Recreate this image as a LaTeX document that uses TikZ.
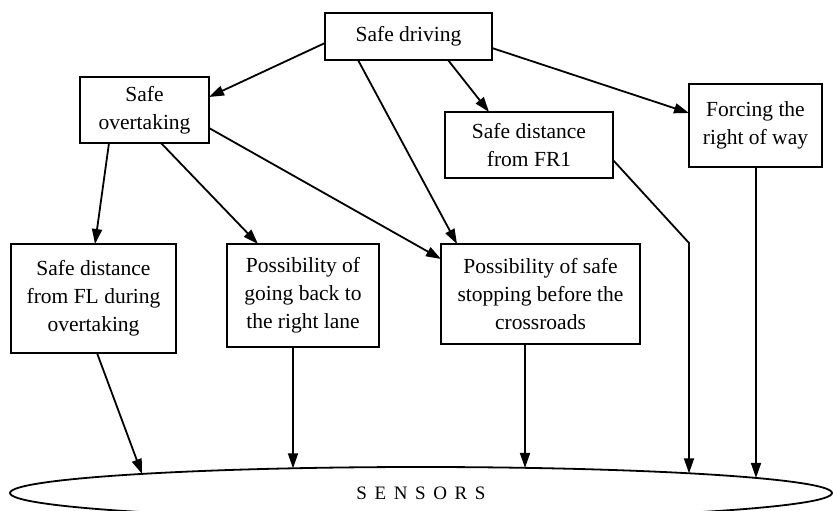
\documentclass[tikz,border=0pt]{standalone}
\usepackage{fontspec}
\setmainfont{Liberation Serif}
\usetikzlibrary{arrows.meta,shapes.geometric,calc}
\begin{document}
\begin{tikzpicture}[x=1pt,y=-1pt,
  box/.style={draw, line width=1.8pt, align=center, inner sep=0pt, outer sep=0pt,
    font=\fontsize{21.5}{28}\selectfont},
  arr/.style={line width=1.8pt, -{Triangle[length=15pt,width=10pt]}},
  ln/.style={line width=1.8pt}]
\useasboundingbox (0,0) rectangle (833,511);

\node[box, minimum width=167pt, minimum height=47pt] (sd) at (408.5,36.5) {Safe driving};
\node[box, minimum width=129pt, minimum height=66pt] (so) at (144.5,110) {Safe\\overtaking};
\node[box, minimum width=168pt, minimum height=66pt] (fr) at (529,145) {Safe distance\\from FR1};
\node[box, minimum width=133pt, minimum height=83pt] (fw) at (755.5,125.5) {Forcing the\\right of way};
\node[box, minimum width=165pt, minimum height=109pt] (fl) at (93.5,298.5) {Safe distance\\from FL during\\overtaking};
\node[box, minimum width=152pt, minimum height=103pt] (gb) at (303,295.5) {Possibility of\\going back to\\the right lane};
\node[box, minimum width=199pt, minimum height=100pt] (ss) at (540.5,294) {Possibility of safe\\stopping before the\\crossroads};
\node[draw, ellipse, line width=1.8pt, minimum width=822pt, minimum height=52pt,
  inner sep=0pt, outer sep=0pt,
  font=\fontsize{19}{20}\selectfont\addfontfeature{LetterSpace=40}] (sen) at (421,493) {SENSORS};

\coordinate (e1) at ($(sen.center)+(-279,-19)$);
\coordinate (e2) at ($(sen.center)+(-128,-24.7)$);
\coordinate (e3) at ($(sen.center)+(104,-25.1)$);
\coordinate (e4) at ($(sen.center)+(268,-19.7)$);
\coordinate (e5) at ($(sen.center)+(335,-15.1)$);
\coordinate (bend) at ($(fr.east)+(76,98)$);

\draw[arr] ($(sd.west)+(0,6.5)$) -- ($(so.east)+(0,-13)$);
\draw[arr] ($(sd.south)+(-50.5,0)$) -- ($(ss.north)+(-83.5,0)$);
\draw[arr] ($(sd.south)+(39.5,0)$) -- ($(fr.north)+(-40,0)$);
\draw[arr] ($(sd.east)+(0,11.5)$) -- ($(fw.west)+(0,-12.5)$);
\draw[arr] ($(so.south)+(-35.5,0)$) -- ($(fl.north)+(1.5,0)$);
\draw[arr] ($(so.south)+(16.5,0)$) -- ($(gb.north)+(-45,0)$);
\draw[arr] ($(so.east)+(0,18)$) -- ($(ss.west)+(0,-35)$);
\draw[arr] ($(fl.south)+(3.5,0)$) -- (e1);
\draw[arr] ($(gb.south)+(-10,0)$) -- (e2);
\draw[arr] ($(ss.south)+(-15.5,0)$) -- (e3);
\draw[arr] ($(fr.east)+(0,15)$) -- (bend) -- (e4);
\draw[arr] ($(fw.south)+(0.5,0)$) -- (e5);
\end{tikzpicture}
\end{document}
